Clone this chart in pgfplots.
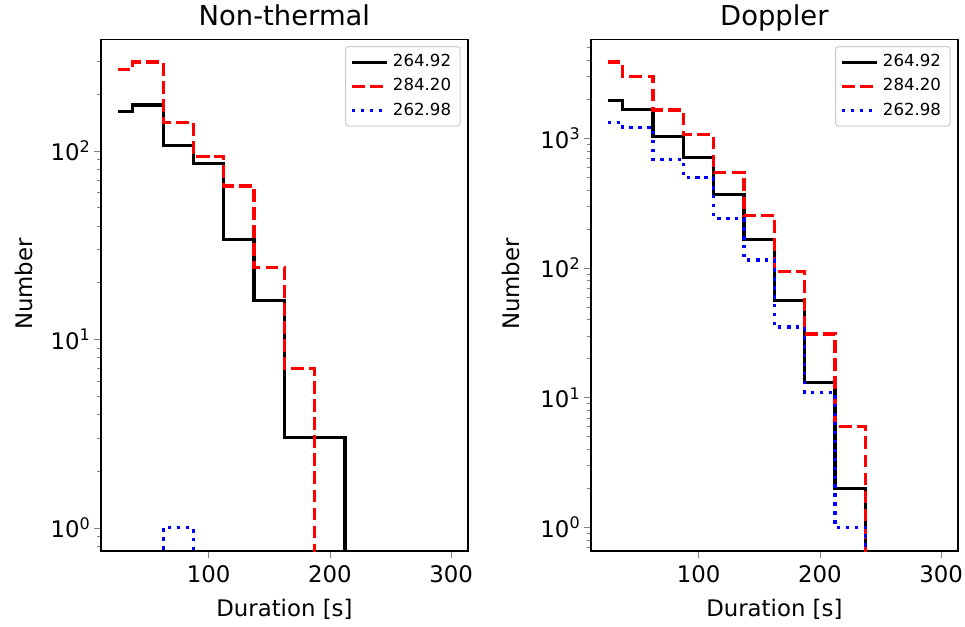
\documentclass[border=0pt]{standalone}
\usepackage{fontspec}
\setmainfont{DejaVu Sans}
\usepackage{pgfplots}
\usepackage{pgfplotstable}
\pgfplotsset{compat=1.18}

\pgfplotstableread{
x    k      r      b
25   162    270    0.001
50   175    296    0.001
75   107    142    1
100  86     93     0.001
125  34     65     0.001
150  16     24     0.001
175  3      7      0.001
200  3      0.001  0.001
225  0.001  0.001  0.001
250  0.001  0.001  0.001
275  0.001  0.001  0.001
300  0.001  0.001  0.001
}\nonthermal

\pgfplotstableread{
x    k      r      b
25   1945   3868   1317
50   1672   3000   1205
75   1027   1650   687
100  713    1064   496
125  367    542    241
150  165    255    115
175  56     94     35
200  13     31     11
225  2      6      1
250  0.001  0.001  0.001
275  0.001  0.001  0.001
300  0.001  0.001  0.001
}\doppler

\begin{document}
\begin{tikzpicture}
\path[use as bounding box] (0,0) rectangle (464.9pt,301.6pt);
\begin{axis}[at={(48.66pt,36.1pt)}, anchor=south west,
  scale only axis, width=176.7pt, height=246.5pt,
  xmin=11.25, xmax=313.75,
  ymode=log, log basis y=10,
  xtick={100,200,300},
  /pgf/number format/assume math mode=true,
  tick align=outside, tick pos=left,
  major tick length=3.4pt, minor tick length=1.9pt,
  axis line style={line width=0.85pt},
  tick label style={font=\fontsize{11}{13}\selectfont},
  yticklabel style={xshift=2pt},
  xlabel style={font=\fontsize{11}{13}\selectfont, at={(axis description cs:0.5,-0.127)}, anchor=base},
  ylabel style={font=\fontsize{11}{13}\selectfont, at={(axis description cs:-0.1879,0.5219)}, anchor=base},
  every axis title shift=0pt,
  title style={font=\fontsize{13.2}{15}\selectfont, at={(axis description cs:0.5,1.028)}, anchor=base},
  xlabel={Duration [s]}, ylabel={Number},
  title={Non-thermal},
  ymin=0.752, ymax=390,
  ytick={1,10,100},
  yticklabels={10\textsuperscript{0},10\textsuperscript{1},10\textsuperscript{2}},
  minor ytick={0.8,0.9,2,3,4,5,6,7,8,9,20,30,40,50,60,70,80,90,200,300},
  legend cell align=left,
  legend image code/.code={\draw[#1] (0pt,0pt) -- (16.9pt,0pt);},
  legend style={at={(axis description cs:1,1)}, anchor=north east, xshift=-3.4pt, yshift=-3.2pt,
    draw=black!20, rounded corners=1.5pt, line width=0.5pt, fill=white,
    font=\fontsize{8}{9.6}\selectfont, inner xsep=2.4pt, inner ysep=1.8pt, row sep=0.2pt},
]
\addplot[black, solid, line width=1.55pt, const plot mark mid] table[x=x, y=k] {\nonthermal};
\addlegendentry{264.92}
\addplot[red, dash pattern=on 6.1pt off 2.6pt, line width=1.55pt, const plot mark mid] table[x=x, y=r] {\nonthermal};
\addlegendentry{284.20}
\addplot[blue, dash pattern=on 1.6pt off 2.7pt, line width=1.55pt, const plot mark mid] table[x=x, y=b] {\nonthermal};
\addlegendentry{262.98}
\end{axis}
\begin{axis}[at={(284.7pt,36.1pt)}, anchor=south west,
  scale only axis, width=176.7pt, height=246.5pt,
  xmin=11.25, xmax=313.75,
  ymode=log, log basis y=10,
  xtick={100,200,300},
  /pgf/number format/assume math mode=true,
  tick align=outside, tick pos=left,
  major tick length=3.4pt, minor tick length=1.9pt,
  axis line style={line width=0.85pt},
  tick label style={font=\fontsize{11}{13}\selectfont},
  yticklabel style={xshift=2pt},
  xlabel style={font=\fontsize{11}{13}\selectfont, at={(axis description cs:0.5,-0.127)}, anchor=base},
  ylabel style={font=\fontsize{11}{13}\selectfont, at={(axis description cs:-0.1935,0.5219)}, anchor=base},
  every axis title shift=0pt,
  title style={font=\fontsize{13.2}{15}\selectfont, at={(axis description cs:0.5,1.028)}, anchor=base},
  xlabel={Duration [s]}, ylabel={Number},
  title={Doppler},
  ymin=0.656, ymax=5780,
  ytick={1,10,100,1000},
  yticklabels={10\textsuperscript{0},10\textsuperscript{1},10\textsuperscript{2},10\textsuperscript{3}},
  minor ytick={0.7,0.8,0.9,2,3,4,5,6,7,8,9,20,30,40,50,60,70,80,90,200,300,400,500,600,700,800,900,2000,3000,4000,5000},
  legend cell align=left,
  legend image code/.code={\draw[#1] (0pt,0pt) -- (16.9pt,0pt);},
  legend style={at={(axis description cs:1,1)}, anchor=north east, xshift=-3.4pt, yshift=-3.2pt,
    draw=black!20, rounded corners=1.5pt, line width=0.5pt, fill=white,
    font=\fontsize{8}{9.6}\selectfont, inner xsep=2.4pt, inner ysep=1.8pt, row sep=0.2pt},
]
\addplot[black, solid, line width=1.55pt, const plot mark mid] table[x=x, y=k] {\doppler};
\addlegendentry{264.92}
\addplot[red, dash pattern=on 6.1pt off 2.6pt, line width=1.55pt, const plot mark mid] table[x=x, y=r] {\doppler};
\addlegendentry{284.20}
\addplot[blue, dash pattern=on 1.6pt off 2.7pt, line width=1.55pt, const plot mark mid] table[x=x, y=b] {\doppler};
\addlegendentry{262.98}
\end{axis}
\end{tikzpicture}
\end{document}
